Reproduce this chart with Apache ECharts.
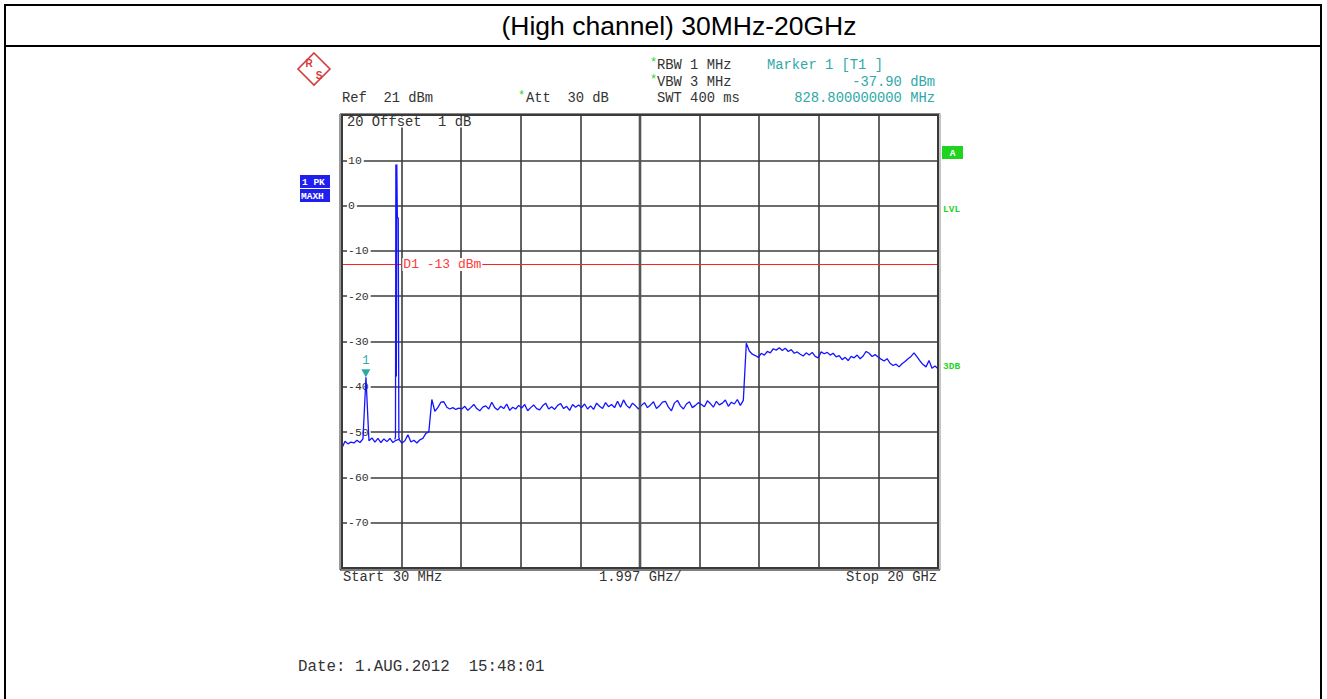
<!DOCTYPE html>
<html>
<head>
<meta charset="utf-8">
<script src="https://cdn.jsdelivr.net/npm/echarts@6/dist/echarts.min.js"></script>
<style>
html,body{margin:0;padding:0;background:#fff;}
#chart{width:1327px;height:699px;}
</style>
</head>
<body>
<div id="chart"></div>
<script>
// ---- Data ----
const startGHz = 0.03;
const stopGHz = 20;
const levelTicks = [10, 0, -10, -20, -30, -40, -50, -60, -70];
// sweep trace levels (dBm), 200 equally spaced sweep points from Start to Stop
const traceLevel = [
  -53.5,-52.0,-52.6,-52.2,-52.4,-51.8,-52.3,-51.5,-37.9,-51.9,
  -51.3,-52.2,-51.4,-52.3,-51.5,-52.1,-51.4,-52.3,-51.8,-51.6,
  -52.4,-51.9,-50.6,-52.2,-51.8,-52.4,-51.7,-51.4,-50.3,-49.9,
  -42.8,-45.4,-44.6,-43.4,-43.3,-44.5,-44.9,-44.6,-45.0,-44.7,
  -44.9,-44.3,-45.2,-44.6,-43.9,-44.8,-45.3,-44.5,-44.2,-44.9,
  -43.4,-44.6,-45.1,-44.3,-44.8,-43.8,-45.2,-44.5,-44.9,-44.1,
  -44.7,-43.9,-45.3,-44.6,-44.0,-44.8,-45.1,-44.2,-43.6,-44.9,
  -44.4,-45.0,-44.1,-43.7,-44.8,-44.3,-45.2,-43.9,-44.5,-44.0,
  -44.6,-43.8,-44.9,-44.2,-45.0,-43.6,-44.3,-44.8,-43.5,-44.4,
  -43.9,-44.6,-43.2,-44.5,-42.9,-44.1,-44.7,-43.6,-44.2,-44.9,
  -44.1,-43.5,-44.6,-44.0,-43.3,-44.8,-44.2,-43.4,-43.2,-44.5,
  -45.3,-43.6,-43.0,-44.2,-44.9,-43.8,-43.3,-44.6,-44.1,-43.5,
  -43.9,-44.4,-43.1,-43.7,-44.5,-43.2,-44.0,-43.6,-42.9,-44.3,
  -43.4,-43.8,-42.8,-44.1,-43.0,-30.4,-32.1,-32.8,-33.1,-33.5,
  -32.6,-33.0,-32.2,-32.5,-31.6,-31.9,-31.4,-32.0,-31.5,-32.2,
  -31.8,-32.6,-32.3,-32.8,-33.2,-32.5,-33.0,-32.4,-33.3,-33.6,
  -32.3,-32.7,-32.4,-33.0,-32.6,-33.4,-33.1,-34.0,-33.5,-34.2,
  -33.3,-33.6,-33.0,-33.8,-33.2,-32.2,-32.6,-33.3,-32.9,-33.4,
  -33.9,-34.3,-33.8,-34.8,-35.3,-35.0,-35.6,-34.9,-34.4,-33.8,
  -33.3,-32.5,-33.4,-34.3,-35.1,-35.6,-34.2,-35.9,-35.4,-36.0
];
// carrier burst around the high channel (GHz, dBm)
const carrierFreq  = [1.800, 1.822, 1.835, 1.852, 1.866, 1.885, 1.915, 1.935, 1.960];
const carrierLevel = [-51.6, -51.0, 9.1, -37.7, 9.1, -2.7, -2.7, -51.2, -51.6];
const markerFreq = 0.8288;   // GHz
const markerLevel = -37.9;   // dBm
const limitLevel = -13;      // D1 line

// ---- build ----
const n = traceLevel.length;
const step = (stopGHz - startGHz) / (n - 1);
const traceData = traceLevel.map((v, i) => [startGHz + i * step, v]);
const carrierData = carrierFreq.map((f, i) => [f, carrierLevel[i]]);

const mono = '"Liberation Mono","DejaVu Sans Mono",monospace';
const teal = '#2fa8a8';
const green = '#1fd41f';
const blue = '#1414ff';

function txt(x, y, t, opt) {
  opt = opt || {};
  return {
    type: 'text', silent: true, z: 100,
    style: {
      x: x, y: y, text: t,
      font: (opt.weight || 'normal') + ' ' + (opt.size || 13.8) + 'px ' + (opt.family || mono),
      fill: opt.color || '#333',
      textAlign: opt.align || 'left',
      verticalAlign: 'middle', textVerticalAlign: 'middle'
    }
  };
}
function ln(x1, y1, x2, y2, color, w) {
  return { type: 'line', silent: true, z: 90, shape: {x1, y1, x2, y2}, style: {stroke: color, lineWidth: w} };
}

const G = {l: 342, t: 115, w: 596, h: 453};

const chart = echarts.init(document.getElementById('chart'), null, {renderer: 'svg'});
chart.setOption({
  animation: false,
  backgroundColor: '#fff',
  grid: {left: G.l, top: G.t, width: G.w, height: G.h, containLabel: false},
  xAxis: [
    {type: 'value', min: startGHz, max: stopGHz, show: false},
    {type: 'value', min: 0, max: 10, interval: 1, position: 'bottom',
     axisLine: {show: false}, axisTick: {show: false}, axisLabel: {show: false},
     splitLine: {show: true, lineStyle: {color: '#3c3c3c', width: 1.6}}}
  ],
  yAxis: {
    type: 'value', min: -80, max: 20, interval: 10,
    axisLine: {show: false}, axisTick: {show: false},
    splitLine: {show: true, lineStyle: {color: '#3c3c3c', width: 1.6}},
    axisLabel: {
      inside: true, margin: 5,
      formatter: v => (levelTicks.indexOf(v) >= 0 ? String(v) : ''),
      fontFamily: mono, fontSize: 11.5, color: '#333',
      backgroundColor: '#fff', padding: [0, 2, 0, 1]
    }
  },
  series: [
    {
      type: 'line', xAxisIndex: 0, data: traceData, symbol: 'none', z: 5,
      lineStyle: {color: blue, width: 1.3},
      markLine: {
        silent: true, symbol: 'none', z: 4,
        lineStyle: {color: '#ff2020', width: 1, type: 'solid'},
        label: {show: false},
        data: [{yAxis: limitLevel}]
      },
      markPoint: {
        silent: true, z: 10,
        data: [
          {coord: [markerFreq, markerLevel], symbol: 'triangle', symbolRotate: 180,
           symbolSize: [9, 8], symbolOffset: [0, -4],
           itemStyle: {color: teal},
           label: {show: true, position: 'top', distance: 2, formatter: '1',
                   color: teal, fontFamily: mono, fontSize: 12}},
          {coord: [2.05, limitLevel], symbol: 'rect', symbolSize: 0.1,
           label: {show: true, position: 'right', distance: 0, formatter: 'D1 -13 dBm',
                   color: '#ff3b3b', fontFamily: mono, fontSize: 13,
                   backgroundColor: '#fff', padding: [0, 1]}}
        ]
      }
    },
    {
      type: 'line', xAxisIndex: 0, data: carrierData, symbol: 'none', z: 6,
      lineStyle: {color: blue, width: 1.3}
    }
  ],
  graphic: [
    // page frame and title row
    ln(5, 5, 1322, 5, '#000', 2),
    ln(5, 4, 5, 699, '#000', 2),
    ln(1321, 4, 1321, 699, '#000', 2),
    ln(5, 46, 1322, 46, '#000', 2),
    txt(679, 26, '(High channel) 30MHz-20GHz', {family: '"Liberation Sans",Arial,sans-serif', size: 26.5, color: '#000', align: 'center'}),
    // plot frame
    {type: 'rect', silent: true, z: 95, shape: {x: G.l, y: G.t, width: G.w, height: G.h},
     style: {fill: 'none', stroke: '#3a3a3a', lineWidth: 2}},
    ln(340, 114, 340, 570, '#777', 1.5),
    ln(340, 113.5, 940, 113.5, '#888', 1),
    ln(940, 113.5, 940, 570, '#888', 1),
    ln(340, 570, 940, 570, '#000', 1),
    ln(640, 115, 640, 568, '#555', 2.6),
    // header text
    txt(650, 63, '*', {color: green, size: 12}),
    txt(657, 65, 'RBW 1 MHz'),
    txt(650, 80, '*', {color: green, size: 12}),
    txt(657, 82, 'VBW 3 MHz'),
    txt(767, 65, 'Marker 1 [T1 ]', {color: teal}),
    txt(935, 82, '-37.90 dBm', {color: teal, align: 'right'}),
    txt(342, 98, 'Ref  21 dBm'),
    txt(518, 96, '*', {color: green, size: 12}),
    txt(526, 98, 'Att  30 dB'),
    txt(657, 98, 'SWT 400 ms'),
    txt(935, 98, '828.800000000 MHz', {color: teal, align: 'right'}),
    // inside top label
    {type: 'rect', silent: true, z: 99, shape: {x: 345, y: 116.5, width: 130, height: 11}, style: {fill: '#fff'}},
    txt(347, 122, '20 Offset  1 dB'),
    // bottom labels
    txt(343, 577, 'Start 30 MHz'),
    txt(599, 577, '1.997 GHz/'),
    txt(937, 577, 'Stop 20 GHz', {align: 'right'}),
    txt(298, 667, 'Date: 1.AUG.2012  15:48:01', {size: 15.8}),
    // trace info boxes
    {type: 'rect', silent: true, z: 99, shape: {x: 300, y: 175, width: 30, height: 13}, style: {fill: '#1f1fee'}},
    {type: 'rect', silent: true, z: 99, shape: {x: 300, y: 189, width: 30, height: 13}, style: {fill: '#1f1fee'}},
    txt(302, 182, '1 PK', {color: '#fff', size: 9.5, weight: 'bold'}),
    txt(301, 196, 'MAXH', {color: '#fff', size: 9.5, weight: 'bold'}),
    {type: 'rect', silent: true, z: 99, shape: {x: 942, y: 146, width: 21, height: 13}, style: {fill: green}},
    txt(952.5, 153, 'A', {color: '#fff', size: 9.5, weight: 'bold', align: 'center'}),
    txt(943, 209, 'LVL', {color: green, size: 9.5, weight: 'bold'}),
    txt(943, 366, '3DB', {color: green, size: 9.5, weight: 'bold'}),
    // R&S logo
    {type: 'polygon', silent: true, z: 99, shape: {points: [[314, 53], [330, 69], [314, 85], [298, 69]]},
     style: {fill: '#fff', stroke: '#d83a3a', lineWidth: 1.6}},
    ln(303, 66, 318, 81, '#d83a3a', 1),
    ln(305, 64, 320, 79, '#d83a3a', 1),
    ln(307, 62, 322, 77, '#d83a3a', 1),
    ln(309, 60, 324, 75, '#d83a3a', 1),
    txt(309, 63, 'R', {color: '#d83a3a', size: 10, weight: 'bold', family: '"Liberation Sans",sans-serif', align: 'center'}),
    txt(319, 75, 'S', {color: '#d83a3a', size: 10, weight: 'bold', family: '"Liberation Sans",sans-serif', align: 'center'})
  ]
});
</script>
</body>
</html>
